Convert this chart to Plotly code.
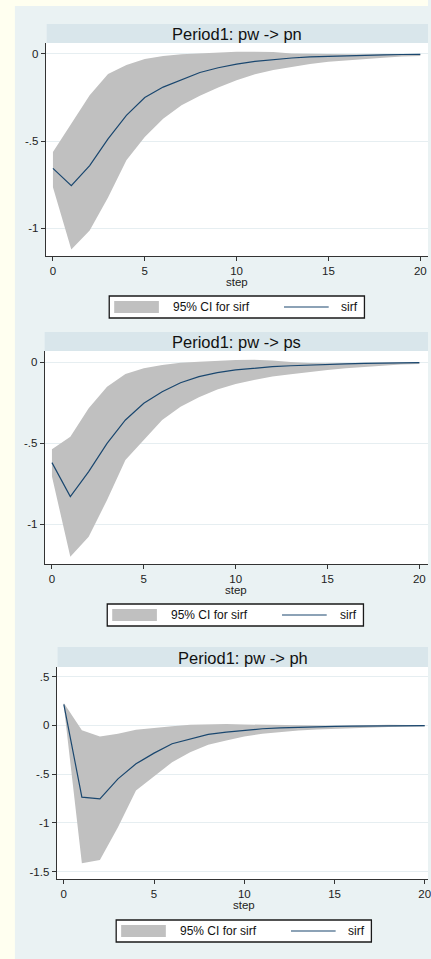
import plotly.graph_objects as go

W, H = 431, 959

steps = list(range(21))

# Period1: pw -> pn
pn_sirf = [-0.656, -0.756, -0.640, -0.487, -0.352, -0.250, -0.190, -0.146, -0.106, -0.079, -0.058,
           -0.042, -0.031, -0.023, -0.017, -0.013, -0.009, -0.007, -0.005, -0.003, -0.002]
pn_upper = [-0.563, -0.400, -0.237, -0.115, -0.063, -0.029, -0.012, -0.002, 0.004, 0.010, 0.013,
            0.013, 0.011, 0.003, 0.000, -0.002, -0.002, -0.001, 0.000, 0.001, 0.000]
pn_lower = [-0.765, -1.121, -1.012, -0.823, -0.610, -0.477, -0.371, -0.294, -0.240, -0.192, -0.150,
            -0.117, -0.092, -0.073, -0.058, -0.044, -0.035, -0.027, -0.021, -0.015, -0.012]

# Period1: pw -> ps
ps_sirf = [-0.619, -0.829, -0.675, -0.500, -0.356, -0.253, -0.181, -0.126, -0.088, -0.064, -0.047,
           -0.035, -0.027, -0.021, -0.016, -0.012, -0.009, -0.007, -0.005, -0.003, -0.002]
ps_upper = [-0.537, -0.459, -0.284, -0.150, -0.072, -0.037, -0.016, -0.002, 0.004, 0.010, 0.014,
            0.016, 0.012, 0.002, -0.004, -0.005, -0.004, -0.003, -0.001, 0.000, 0.000]
ps_lower = [-0.705, -1.200, -1.076, -0.850, -0.603, -0.479, -0.356, -0.274, -0.216, -0.167, -0.134,
            -0.109, -0.088, -0.074, -0.060, -0.047, -0.037, -0.029, -0.021, -0.014, -0.010]

# Period1: pw -> ph
ph_sirf = [0.216, -0.736, -0.753, -0.548, -0.394, -0.284, -0.188, -0.137, -0.092, -0.068, -0.048,
           -0.034, -0.024, -0.017, -0.013, -0.009, -0.007, -0.005, -0.003, -0.002, -0.001]
ph_upper = [0.230, -0.050, -0.113, -0.086, -0.045, -0.024, -0.007, 0.007, 0.014, 0.014, 0.010,
            0.007, 0.003, 0.000, -0.003, -0.003, 0.000, 0.005, 0.006, 0.004, 0.000]
ph_lower = [0.200, -1.414, -1.380, -1.045, -0.668, -0.521, -0.377, -0.274, -0.199, -0.154, -0.113,
            -0.086, -0.065, -0.051, -0.041, -0.034, -0.027, -0.021, -0.017, -0.014, -0.010]

titles = ["Period1: pw -> pn", "Period1: pw -> ps", "Period1: pw -> ph"]
x_ticks = [0, 5, 10, 15, 20]
x_ticktext = ["0", "5", "10", "15", "20"]
y_ticks_12 = [0, -0.5, -1]
y_ticktext_12 = ["0", "-.5", "-1"]
y_ticks_3 = [0.5, 0, -0.5, -1, -1.5]
y_ticktext_3 = [".5", "0", "-.5", "-1", "-1.5"]
legend_labels = ["95% CI for sirf", "sirf"]

series = [(pn_sirf, pn_upper, pn_lower), (ps_sirf, ps_upper, ps_lower), (ph_sirf, ph_upper, ph_lower)]

# layout geometry in pixels
panels = [
    dict(plot_x=(46, 431), plot_y=(43, 256), xr=(-0.395, 20.42), yr=(-1.159, 0.063),
         bar_x=(47, 431), bar_y=(24, 43), leg_x=(110, 367), leg_y=(296, 318), step_y=282,
         yt=y_ticks_12, ytt=y_ticktext_12),
    dict(plot_x=(45, 431), plot_y=(351, 564), xr=(-0.395, 20.47), yr=(-1.245, 0.07),
         bar_x=(45, 431), bar_y=(332, 351), leg_x=(108, 366), leg_y=(604, 626), step_y=590,
         yt=y_ticks_12, ytt=y_ticktext_12),
    dict(plot_x=(57, 431), plot_y=(667, 879), xr=(-0.40, 20.18), yr=(-1.576, 0.6),
         bar_x=(58, 431), bar_y=(647, 667), leg_x=(117, 374), leg_y=(920, 942), step_y=905,
         yt=y_ticks_3, ytt=y_ticktext_3),
]

BAND = "#C0C0C0"
LINE = "#1A476F"
OUTER = "#FFFFF0"
BG = "#EAF2F3"
BAR = "#D9E6EB"
GRID = "#E6EEF1"
AX = "#333333"
FONT = "Liberation Sans, Arial, sans-serif"


def fx(p):
    return p / W


def fy(p):
    return 1 - p / H


fig = go.Figure()
shapes = []
annotations = []

# outer ivory strips (left and top)
shapes.append(dict(type="rect", xref="paper", yref="paper", x0=0, x1=fx(15), y0=0, y1=1,
                   fillcolor=OUTER, line=dict(width=0), layer="below"))
shapes.append(dict(type="rect", xref="paper", yref="paper", x0=0, x1=1, y0=fy(6), y1=1,
                   fillcolor=OUTER, line=dict(width=0), layer="below"))

for i, (p, (s, up, lo), title) in enumerate(zip(panels, series, titles)):
    n = "" if i == 0 else str(i + 1)
    xa, ya = "x" + n, "y" + n
    fig.add_trace(go.Scatter(x=steps, y=lo, mode="lines", line=dict(width=0, color=BAND),
                             showlegend=False, hoverinfo="skip", xaxis=xa, yaxis=ya))
    fig.add_trace(go.Scatter(x=steps, y=up, mode="lines", line=dict(width=0, color=BAND),
                             fill="tonexty", fillcolor=BAND, name=legend_labels[0],
                             showlegend=False, xaxis=xa, yaxis=ya))
    fig.add_trace(go.Scatter(x=steps, y=s, mode="lines", line=dict(width=1.2, color=LINE),
                             name=legend_labels[1], showlegend=False, xaxis=xa, yaxis=ya))

    common = dict(showline=True, linecolor=AX, linewidth=1, ticks="outside", ticklen=4,
                  tickcolor=AX, tickfont=dict(family=FONT, size=11.5, color="#222222"),
                  zeroline=False, fixedrange=True, ticklabeloverflow="allow")
    fig.layout["xaxis" + n] = dict(domain=[fx(p["plot_x"][0]), fx(p["plot_x"][1])],
                                   range=list(p["xr"]), tickvals=x_ticks, ticktext=x_ticktext,
                                   showgrid=False, anchor=ya, **common)
    fig.layout["yaxis" + n] = dict(domain=[fy(p["plot_y"][1]), fy(p["plot_y"][0])],
                                   range=list(p["yr"]), tickvals=p["yt"], ticktext=p["ytt"],
                                   showgrid=True, gridcolor=GRID, gridwidth=1, anchor=xa, **common)

    # title bar
    shapes.append(dict(type="rect", xref="paper", yref="paper",
                       x0=fx(p["bar_x"][0]), x1=fx(p["bar_x"][1]),
                       y0=fy(p["bar_y"][1]), y1=fy(p["bar_y"][0]),
                       fillcolor=BAR, line=dict(width=0), layer="below"))
    annotations.append(dict(text=title, xref="paper", yref="paper",
                            x=fx((p["bar_x"][0] + p["bar_x"][1]) / 2),
                            y=fy((p["bar_y"][0] + p["bar_y"][1]) / 2 + 0.5),
                            showarrow=False, xanchor="center", yanchor="middle",
                            font=dict(family=FONT, size=16.5, color="#111111")))
    # x-axis title
    annotations.append(dict(text="step", xref=xa, yref="paper", x=10, y=fy(p["step_y"]),
                            showarrow=False, xanchor="center", yanchor="middle",
                            font=dict(family=FONT, size=11.5, color="#222222")))
    # legend
    bx0, bx1 = p["leg_x"]
    by0, by1 = p["leg_y"]
    cy = (by0 + by1) / 2
    shapes.append(dict(type="rect", xref="paper", yref="paper", x0=fx(bx0), x1=fx(bx1),
                       y0=fy(by1), y1=fy(by0), fillcolor="white",
                       line=dict(width=1.3, color="#1A1A1A"), layer="above"))
    shapes.append(dict(type="rect", xref="paper", yref="paper", x0=fx(bx0 + 5), x1=fx(bx0 + 50),
                       y0=fy(by1 - 5), y1=fy(by0 + 5), fillcolor=BAND, line=dict(width=0),
                       layer="above"))
    shapes.append(dict(type="line", xref="paper", yref="paper", x0=fx(bx0 + 176), x1=fx(bx0 + 221),
                       y0=fy(cy), y1=fy(cy), line=dict(width=1.2, color=LINE), layer="above"))
    annotations.append(dict(text=legend_labels[0], xref="paper", yref="paper", x=fx(bx0 + 62),
                            y=fy(cy), showarrow=False, xanchor="left", yanchor="middle",
                            font=dict(family=FONT, size=12, color="#111111")))
    annotations.append(dict(text=legend_labels[1], xref="paper", yref="paper", x=fx(bx1 - 4),
                            y=fy(cy), showarrow=False, xanchor="right", yanchor="middle",
                            font=dict(family=FONT, size=12, color="#111111")))

fig.update_layout(
    width=W, height=H,
    margin=dict(l=0, r=0, t=0, b=0),
    paper_bgcolor=BG,
    plot_bgcolor="white",
    showlegend=False,
    shapes=shapes,
    annotations=annotations,
    font=dict(family=FONT),
)

fig.write_html("out.html",
               config={"displayModeBar": False},
               post_script="document.body.style.margin='0';document.body.style.padding='0';"
                           "document.body.style.overflow='hidden';")
